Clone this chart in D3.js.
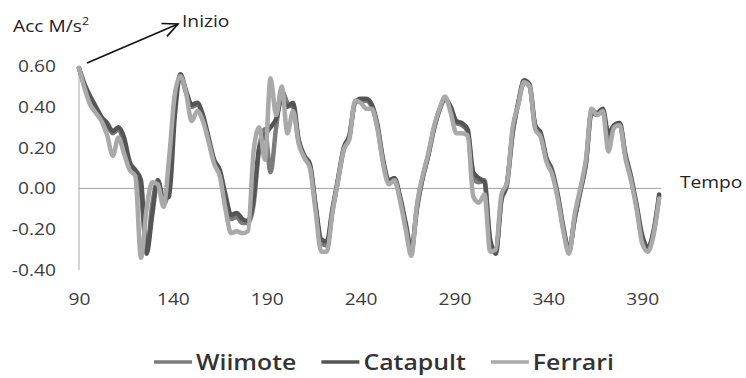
<!DOCTYPE html>
<html>
<head>
<meta charset="utf-8">
<script src="https://cdn.jsdelivr.net/npm/d3@7/dist/d3.min.js"></script>
<style>
  html, body { margin: 0; padding: 0; background: #ffffff; }
  svg { display: block; }
  text { font-family: "Open Sans", "Noto Sans", sans-serif; }
</style>
</head>
<body>
<svg id="chart" width="746" height="378"></svg>
<script>
// Sample times (every third step of the recording)
const tempo = d3.range(90, 400, 3);

// Acceleration traces, M/s^2
const wiimote = [
  0.59, 0.50, 0.44, 0.39, 0.34, 0.31, 0.27, 0.29, 0.22, 0.12,
  0.08, -0.02, -0.31, -0.08, 0.04, -0.08, 0.02, 0.40, 0.55, 0.47,
  0.40, 0.41, 0.35, 0.24, 0.13, 0.08, -0.05, -0.15, -0.14, -0.17,
  -0.17, -0.08, 0.20, 0.29, 0.08, 0.30, 0.48, 0.42, 0.40, 0.23,
  0.16, 0.11, -0.09, -0.27, -0.28, -0.11, 0.04, 0.19, 0.25, 0.42,
  0.43, 0.43, 0.40, 0.30, 0.13, 0.03, 0.05, -0.05, -0.18, -0.31,
  -0.09, 0.05, 0.16, 0.29, 0.385, 0.44, 0.39, 0.32, 0.31, 0.28,
  0.05, 0.03, 0.04, -0.27, -0.31, -0.05, 0.03, 0.28, 0.42, 0.52,
  0.50, 0.30, 0.26, 0.14, 0.08, -0.04, -0.20, -0.31, -0.15, -0.02,
  0.12, 0.37, 0.36, 0.38, 0.24, 0.30, 0.32, 0.16, 0.05, -0.09,
  -0.25, -0.30, -0.22, -0.04
];
const catapult = [
  0.59, 0.51, 0.45, 0.40, 0.35, 0.32, 0.28, 0.30, 0.25, 0.13,
  0.09, 0.04, -0.32, -0.13, 0.04, -0.05, -0.04, 0.35, 0.56, 0.48,
  0.41, 0.42, 0.36, 0.25, 0.14, 0.09, -0.03, -0.13, -0.12, -0.15,
  -0.16, -0.05, 0.20, 0.26, 0.30, 0.34, 0.44, 0.40, 0.42, 0.24,
  0.16, 0.12, -0.08, -0.25, -0.26, -0.10, 0.05, 0.20, 0.26, 0.42,
  0.44, 0.44, 0.41, 0.31, 0.14, 0.04, 0.05, -0.04, -0.17, -0.30,
  -0.10, 0.05, 0.16, 0.29, 0.385, 0.44, 0.40, 0.33, 0.32, 0.29,
  0.08, 0.05, 0.03, -0.25, -0.32, -0.06, 0.02, 0.27, 0.42, 0.53,
  0.51, 0.31, 0.27, 0.15, 0.09, -0.03, -0.19, -0.30, -0.15, -0.01,
  0.12, 0.38, 0.37, 0.39, 0.27, 0.31, 0.32, 0.17, 0.06, -0.08,
  -0.23, -0.29, -0.21, -0.03
];
const ferrari = [
  0.59, 0.49, 0.41, 0.37, 0.33, 0.26, 0.16, 0.25, 0.17, 0.09,
  0.06, -0.34, -0.10, 0.03, 0.02, -0.09, 0.15, 0.46, 0.55, 0.47,
  0.33, 0.38, 0.33, 0.23, 0.12, 0.06, -0.10, -0.22, -0.21, -0.22,
  -0.21, 0.18, 0.30, 0.14, 0.54, 0.36, 0.50, 0.27, 0.38, 0.22,
  0.15, 0.10, -0.11, -0.31, -0.31, -0.12, 0.04, 0.19, 0.24, 0.43,
  0.42, 0.39, 0.39, 0.29, 0.12, 0.02, 0.04, -0.06, -0.20, -0.33,
  -0.08, 0.06, 0.17, 0.30, 0.39, 0.45, 0.37, 0.27, 0.27, 0.26,
  -0.04, -0.07, -0.03, -0.31, -0.30, -0.03, 0.03, 0.30, 0.41, 0.52,
  0.50, 0.29, 0.25, 0.13, 0.07, -0.05, -0.21, -0.32, -0.13, 0.00,
  0.14, 0.39, 0.36, 0.38, 0.18, 0.30, 0.31, 0.15, 0.04, -0.10,
  -0.27, -0.31, -0.23, -0.05
];

const seriesNames = ["Wiimote", "Catapult", "Ferrari"];
const xTicks = [90, 140, 190, 240, 290, 340, 390];
const yTicks = [-0.4, -0.2, 0, 0.2, 0.4, 0.6];

const colors = { Wiimote: "#7b7b7b", Catapult: "#555555", Ferrari: "#a9a9a9" };
const stretch = 1.13;
const svg = d3.select("#chart");

const x = d3.scaleLinear().domain([90, 400]).range([79, 661]);
const y = d3.scaleLinear().domain([-0.4, 0.6]).range([270, 66]);
const fmt = d3.formatLocale({ decimal: ".", thousands: ",", grouping: [3], currency: ["", ""], minus: "-" }).format(".2f");

// Y axis: labels only, plus a thin vertical rule
const yAxis = svg.append("g")
  .attr("transform", `translate(${x(90)},0)`)
  .call(d3.axisLeft(y).tickValues(yTicks).tickFormat(fmt).tickSize(0).tickPadding(0));
yAxis.select(".domain").remove();
yAxis.selectAll("text")
  .attr("x", -23 / stretch)
  .attr("transform", `scale(${stretch},1)`)
  .attr("font-family", "'Open Sans', sans-serif")
  .attr("font-size", 17)
  .attr("fill", "#3c3c3c");
svg.append("line")
  .attr("x1", x(90)).attr("x2", x(90))
  .attr("y1", y(-0.4)).attr("y2", y(0.6))
  .attr("stroke", "#a8a8a8").attr("stroke-width", 1);

// X axis labels under the plot
const xAxis = svg.append("g")
  .attr("transform", `translate(0,${y(-0.4)})`)
  .call(d3.axisBottom(x).tickValues(xTicks).tickFormat(d3.format("d")).tickSize(0).tickPadding(23));
xAxis.select(".domain").remove();
xAxis.selectAll("text")
  .attr("transform", `scale(${stretch},1)`)
  .attr("x", 0)
  .attr("font-family", "'Open Sans', sans-serif")
  .attr("font-size", 17)
  .attr("fill", "#3c3c3c");

// Zero line
svg.append("line")
  .attr("x1", x(90)).attr("x2", x(400))
  .attr("y1", y(0)).attr("y2", y(0))
  .attr("stroke", "#a0a0a0").attr("stroke-width", 1);

// Series lines
const line = d3.line()
  .x((d, i) => x(tempo[i]))
  .y(d => y(d))
  .curve(d3.curveMonotoneX);
const data = { Wiimote: wiimote, Catapult: catapult, Ferrari: ferrari };
seriesNames.forEach(name => {
  svg.append("path")
    .datum(data[name])
    .attr("d", line)
    .attr("fill", "none")
    .attr("stroke", colors[name])
    .attr("stroke-width", 4.5)
    .attr("stroke-linejoin", "round")
    .attr("stroke-linecap", "round");
});

// Stretched text helper
function label(str, px, py, size, opts = {}) {
  return svg.append("text")
    .attr("transform", `translate(${px},${py}) scale(${stretch},1)`)
    .attr("font-size", size)
    .attr("font-weight", opts.weight || 400)
    .attr("fill", opts.fill || "#222")
    .attr("text-anchor", opts.anchor || "start")
    .text(str);
}

// Axis titles
const yTitle = label("Acc M/s", 13, 32, 17, { fill: "#222" });
yTitle.append("tspan").attr("font-size", 11).attr("dy", -7).text("2");
label("Tempo", 680, 188, 17, { fill: "#222" });

// Start marker arrow
svg.append("defs").append("marker")
  .attr("id", "arrowOpen")
  .attr("viewBox", "-16 -8 18 16")
  .attr("refX", 0).attr("refY", 0)
  .attr("markerWidth", 18).attr("markerHeight", 16)
  .attr("markerUnits", "userSpaceOnUse")
  .attr("orient", "auto")
  .append("path")
  .attr("d", "M-15,-7 L0,0 L-15,7")
  .attr("fill", "none").attr("stroke", "#111").attr("stroke-width", 1.6);
svg.append("line")
  .attr("x1", 87).attr("y1", 63).attr("x2", 178).attr("y2", 24)
  .attr("stroke", "#111").attr("stroke-width", 1.6)
  .attr("marker-end", "url(#arrowOpen)");
label("Inizio", 182, 27, 17, { fill: "#222" });

// Legend
let lx = 154;
const ly = 362;
seriesNames.forEach(name => {
  svg.append("line")
    .attr("x1", lx).attr("x2", lx + 38)
    .attr("y1", ly).attr("y2", ly)
    .attr("stroke", colors[name]).attr("stroke-width", 3.5);
  const t = label(name, lx + 42, ly + 8, 22, { weight: 600, fill: "#333" });
  const w = t.node().getComputedTextLength() * stretch;
  lx += 42 + w + 25;
});
</script>
</body>
</html>
